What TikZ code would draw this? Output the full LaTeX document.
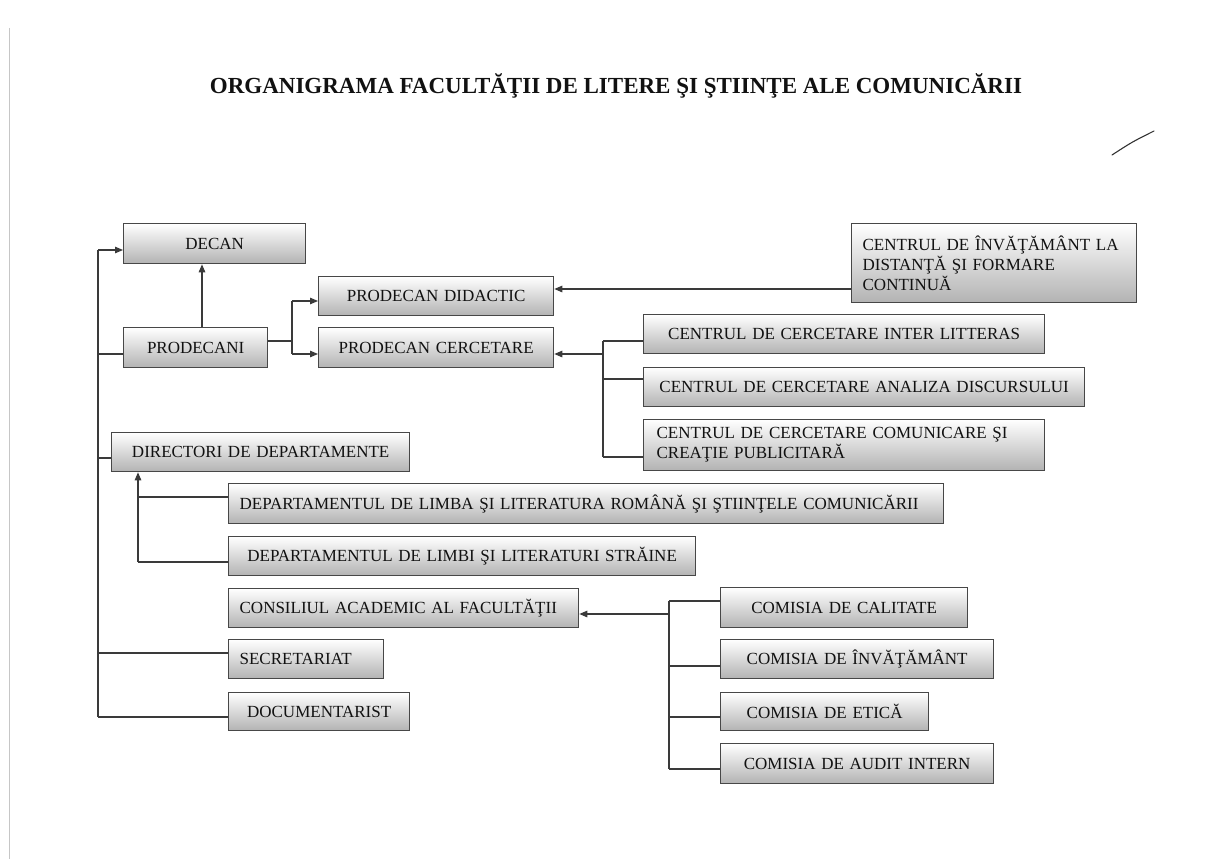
\documentclass[tikz,border=0pt]{standalone}
\usepackage{fontspec}
\setmainfont{Liberation Serif}
\usetikzlibrary{arrows.meta}
\definecolor{linec}{HTML}{3A3A3A}
\definecolor{boxline}{HTML}{474747}
\definecolor{txt}{HTML}{111111}
\begin{document}
\begin{tikzpicture}[x=1pt,y=-1pt,
  box/.style={draw=boxline, line width=1.3pt, top color=white, bottom color=gray!60,
    anchor=north west, inner ysep=0pt, text=txt,
    font=\fontsize{17}{20}\selectfont},
  cbox/.style={box, inner xsep=0pt, align=center},
  lbox/.style={box, align=left},
  conn/.style={draw=linec, line width=1.2pt},
  arr/.style={conn, -{Triangle[length=8pt,width=6.5pt]}}]
\useasboundingbox (0,0) rectangle (1213,859);
% page edge and stroke
\draw[gray!45, line width=1pt] (9,28) -- (9,859);
\draw[black!80, line width=1.1pt, line cap=round] (1112,155) .. controls (1132,142) .. (1154,131);
% title
\node[font=\bfseries\fontsize{23}{26}\selectfont, text=txt] (title) at (616,86) {ORGANIGRAMA FACULTĂŢII DE LITERE ŞI ŞTIINŢE ALE COMUNICĂRII};
% boxes
\node[cbox, text width=182pt, minimum height=40pt] (decan) at (123,223) {DECAN};
\node[cbox, text width=235pt, minimum height=39pt] (pdid) at (318,276) {PRODECAN DIDACTIC};
\node[cbox, text width=144pt, minimum height=40pt] (pceri) at (123,327) {PRODECANI};
\node[cbox, text width=235pt, minimum height=40pt] (pcer) at (318,327) {PRODECAN CERCETARE};
\node[lbox, inner xsep=11pt, text width=263pt, minimum height=79pt] (cid) at (851,223) {CENTRUL DE ÎNVĂŢĂMÂNT LA\\DISTANŢĂ ŞI FORMARE\\CONTINUĂ};
\node[cbox, text width=401pt, minimum height=39pt] (cil) at (643,314) {CENTRUL DE CERCETARE INTER LITTERAS};
\node[cbox, text width=441pt, minimum height=39pt] (cad) at (643,367) {CENTRUL DE CERCETARE ANALIZA DISCURSULUI};
\node[lbox, inner xsep=13pt, text width=375pt, minimum height=51pt] (ccc) at (643,419) {CENTRUL DE CERCETARE COMUNICARE ŞI\\CREAŢIE PUBLICITARĂ};
\node[cbox, text width=298pt, minimum height=39pt] (dir) at (111,432) {DIRECTORI DE DEPARTAMENTE};
\node[lbox, inner xsep=11pt, text width=693pt, minimum height=40pt] (dlimba) at (228,483) {DEPARTAMENTUL DE LIMBA ŞI LITERATURA ROMÂNĂ ŞI ŞTIINŢELE COMUNICĂRII};
\node[cbox, text width=467pt, minimum height=39pt] (dlimbi) at (228,536) {DEPARTAMENTUL DE LIMBI ŞI LITERATURI STRĂINE};
\node[lbox, inner xsep=11pt, text width=328pt, minimum height=39pt] (cons) at (228,588) {CONSILIUL ACADEMIC AL FACULTĂŢII};
\node[lbox, inner xsep=11pt, text width=133pt, minimum height=39pt] (secr) at (228,639) {SECRETARIAT};
\node[cbox, text width=181pt, minimum height=38pt] (doc) at (228,692) {DOCUMENTARIST};
\node[cbox, text width=247pt, minimum height=40pt] (ccal) at (720,587) {COMISIA DE CALITATE};
\node[cbox, text width=273pt, minimum height=39pt] (cinv) at (720,639) {COMISIA DE ÎNVĂŢĂMÂNT};
\node[cbox, text width=208pt, minimum height=38pt] (cet) at (720,692) {COMISIA DE ETICĂ};
\node[cbox, text width=273pt, minimum height=40pt] (caud) at (720,743) {COMISIA DE AUDIT INTERN};
% junction coordinates
\coordinate (busT) at (98,250);
\coordinate (busB) at (98,717);
\coordinate (busP) at (98,354);
\coordinate (busD) at (98,458);
\coordinate (busS) at (98,653);
\coordinate (fpA) at (292,341);
\coordinate (fpT) at (292,301);
\coordinate (fpB) at (292,354);
\coordinate (fcT) at (603,341);
\coordinate (fcM) at (603,354);
\coordinate (fcA) at (603,379);
\coordinate (fcB) at (603,457);
\coordinate (fdT) at (138,497);
\coordinate (fdB) at (138,562);
\coordinate (fkT) at (669,601);
\coordinate (fkM) at (669,614);
\coordinate (fkI) at (669,666);
\coordinate (fkE) at (669,717);
\coordinate (fkB) at (669,769);
\coordinate (cidY) at (0,289);
% left bus
\draw[conn] (busT) -- (busB);
\draw[arr] (busT) -- (busT -| decan.west);
\draw[conn] (busP) -- (busP -| pceri.west);
\draw[conn] (busD) -- (busD -| dir.west);
\draw[conn] (busS) -- (busS -| secr.west);
\draw[conn] (busB) -- (busB -| doc.west);
% prodecani
\draw[arr] (pceri.north -| 202,0) -- (decan.south -| 202,0);
\draw[conn] (fpA -| pceri.east) -- (fpA);
\draw[conn] (fpT) -- (fpB);
\draw[arr] (fpT) -- (fpT -| pdid.west);
\draw[arr] (fpB) -- (fpB -| pcer.west);
% centres
\draw[arr] (cidY -| cid.west) -- (cidY -| pdid.east);
\draw[conn] (fcT) -- (fcB);
\draw[arr] (fcM) -- (fcM -| pcer.east);
\draw[conn] (fcT) -- (fcT -| cil.west);
\draw[conn] (fcA) -- (fcA -| cad.west);
\draw[conn] (fcB) -- (fcB -| ccc.west);
% departments
\draw[conn] (fdB) -- (fdT);
\draw[arr] (fdT) -- (fdT |- dir.south);
\draw[conn] (fdT) -- (fdT -| dlimba.west);
\draw[conn] (fdB) -- (fdB -| dlimbi.west);
% commissions
\draw[conn] (fkT) -- (fkB);
\draw[arr] (fkM) -- (fkM -| cons.east);
\draw[conn] (fkT) -- (fkT -| ccal.west);
\draw[conn] (fkI) -- (fkI -| cinv.west);
\draw[conn] (fkE) -- (fkE -| cet.west);
\draw[conn] (fkB) -- (fkB -| caud.west);
\end{tikzpicture}
\end{document}
